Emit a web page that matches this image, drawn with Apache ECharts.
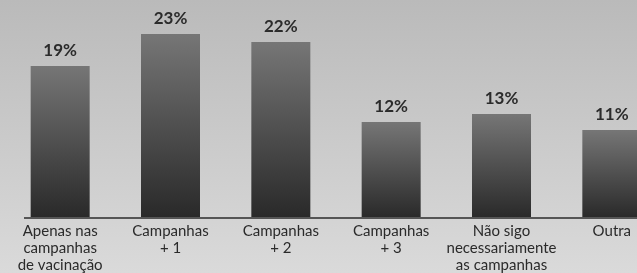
<!DOCTYPE html>
<html>
<head>
<meta charset="utf-8">
<script src="https://cdn.jsdelivr.net/npm/echarts@6/dist/echarts.min.js"></script>
<style>
  html, body { margin: 0; padding: 0; }
  #container { width: 637px; height: 273px; }
</style>
</head>
<body>
<div id="container"></div>
<script>
var categories = [
    'Apenas nas\ncampanhas\nde vacinação',
    'Campanhas\n+ 1',
    'Campanhas\n+ 2',
    'Campanhas\n+ 3',
    'Não sigo\nnecessariamente\nas campanhas',
    'Outra'
];
var values = [19, 23, 22, 12, 13, 11];

var dom = document.getElementById('container');
var myChart = echarts.init(dom);

var option = {
    backgroundColor: {
        type: 'linear', x: 0, y: 0, x2: 0, y2: 1,
        colorStops: [
            { offset: 0, color: '#bababa' },
            { offset: 1, color: '#dadada' }
        ]
    },
    grid: {
        left: 5,
        right: -30,
        top: 18,
        bottom: 55,
        outerBoundsMode: 'none',
        containLabel: false
    },
    xAxis: {
        type: 'category',
        data: categories,
        axisLine: { show: false },
        axisTick: { show: false },
        axisLabel: {
            interval: 0,
            margin: 5,
            color: '#2a2a2a',
            fontFamily: 'Lato',
            fontSize: 15,
            lineHeight: 17
        }
    },
    yAxis: {
        type: 'value',
        min: 0,
        max: 25,
        show: false,
        splitLine: { show: false }
    },
    graphic: [{
        type: 'line',
        shape: { x1: 24, y1: 218, x2: 637, y2: 218 },
        style: { stroke: '#555555', lineWidth: 2 },
        z: 10
    }],
    series: [{
        type: 'bar',
        data: values,
        barWidth: 59,
        itemStyle: {
            color: {
                type: 'linear', x: 0, y: 0, x2: 0, y2: 1,
                colorStops: [
                    { offset: 0, color: '#767676' },
                    { offset: 1, color: '#292929' }
                ]
            }
        },
        label: {
            show: true,
            position: 'top',
            distance: 7,
            formatter: '{c}%',
            color: '#2b2b2b',
            fontFamily: 'Lato',
            fontWeight: 'bold',
            fontSize: 17
        }
    }]
};
myChart.setOption(option);
</script>
</body>
</html>
